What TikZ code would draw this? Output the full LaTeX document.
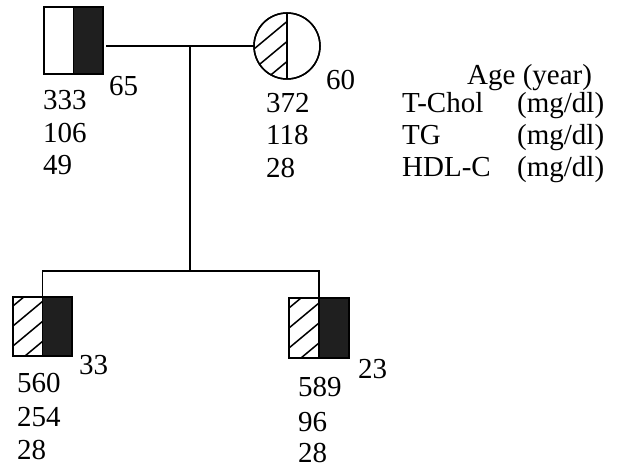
\documentclass[tikz,border=0pt]{standalone}
\usepackage{fontspec}
\setmainfont{Liberation Serif}
\usetikzlibrary{calc}
\newcommand\ppFillRight{\fill[black!88] (path picture bounding box.north) rectangle (path picture bounding box.south east);}
\newcommand\ppHatchLeft{\begin{scope}
       \clip (path picture bounding box.south west) rectangle (path picture bounding box.north);
       \foreach \k in {-2,...,5}
         \draw[line width=1.5pt] ([yshift=\k*20pt-30pt]path picture bounding box.south west) -- ++(90pt,75pt);
     \end{scope}}
\newcommand\ppDivider{\draw[line width=1.5pt] (path picture bounding box.north) -- (path picture bounding box.south);}
\begin{document}
\begin{tikzpicture}[x=1pt,y=-1pt,
  lw/.style={line width=1.5pt},
  person/.style={draw, lw, inner sep=0pt, outer sep=0pt},
  fatherfill/.style={path picture={\ppFillRight\ppDivider}},
  motherfill/.style={path picture={\ppHatchLeft\ppDivider}},
  childfill/.style={path picture={\ppFillRight\ppHatchLeft\ppDivider}},
  num/.style={anchor=base west, inner sep=0pt, font=\fontsize{29}{29}\selectfont}
]
\useasboundingbox (0,0) rectangle (622,470);
\fill[white] (0,0) rectangle (622,470);

% persons
\node[person, minimum width=59pt, minimum height=67pt, fatherfill] (father) at (73.5,40.5) {};
\node[person, circle, minimum size=66pt, motherfill] (mother) at (287,46) {};
\node[person, minimum width=59pt, minimum height=59pt, childfill] (lc) at (42.5,326.5) {};
\node[person, minimum width=60pt, minimum height=60pt, childfill] (rc) at (319,328) {};
% redraw outlines on top
\node[draw, lw, inner sep=0pt, minimum width=59pt, minimum height=67pt] (fo) at (father) {};
\node[draw, lw, circle, inner sep=0pt, minimum size=66pt] (mo) at (mother) {};
\node[draw, lw, inner sep=0pt, minimum width=59pt, minimum height=59pt] (lo) at (lc) {};
\node[draw, lw, inner sep=0pt, minimum width=60pt, minimum height=60pt] (ro) at (rc) {};

% connectors
\coordinate (m) at (190,46);
\coordinate (sib) at (190,271);
\draw[lw] ([xshift=3pt]father.east |- mother.west) -- (mother.west);
\draw[lw] (m) -- (sib);
\draw[lw] (lc.north) -- (lc.north |- sib) -- (rc.north |- sib) -- (rc.north);

% father data
\node[num] (fa) at (109,96) {65};
\node[num] (f1) at (43,110) {333};
\node[num] (f2) at (43,143) {106};
\node[num] (f3) at (43,175) {49};
% mother data
\node[num] (ma) at (326,90) {60};
\node[num] (m1) at (266,113) {372};
\node[num] (m2) at (266,145) {118};
\node[num] (m3) at (266,178) {28};
% left child
\node[num] (la) at (79,375) {33};
\node[num] (l1) at (17,393) {560};
\node[num] (l2) at (17,427) {254};
\node[num] (l3) at (17,460) {28};
% right child
\node[num] (ra) at (358,379) {23};
\node[num] (r1) at (298,397) {589};
\node[num] (r2) at (298,432) {96};
\node[num] (r3) at (298,463) {28};
% legend
\node[num] (g0) at (467,85) {Age (year)};
\node[num] (g1) at (402,113) {T-Chol};
\node[num] (u1) at (517,113) {(mg/dl)};
\node[num] (g2) at (402,145) {TG};
\node[num] (u2) at (517,145) {(mg/dl)};
\node[num] (g3) at (402,177) {HDL-C};
\node[num] (u3) at (517,177) {(mg/dl)};
\end{tikzpicture}
\end{document}
